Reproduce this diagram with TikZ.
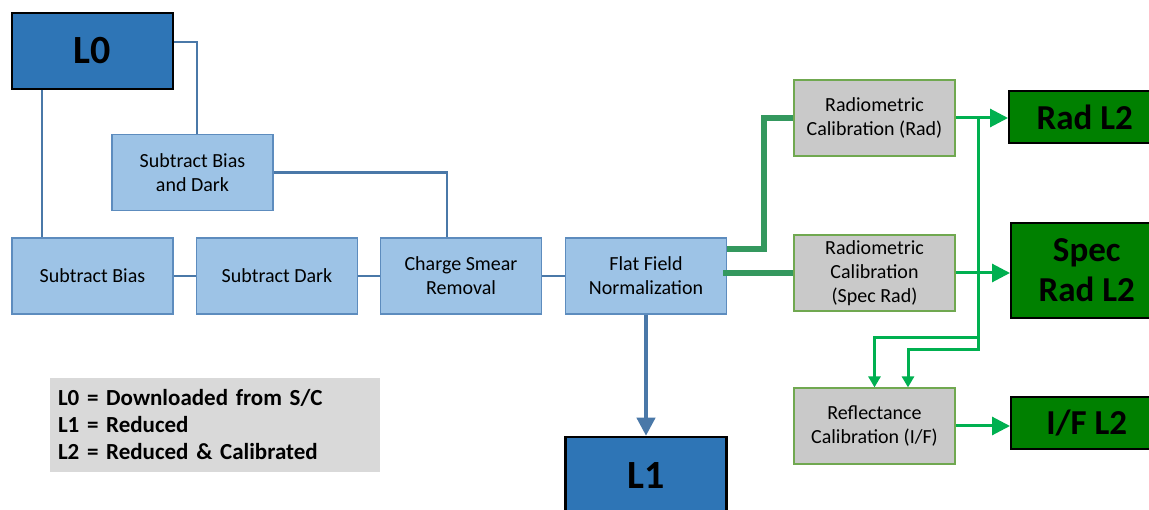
\documentclass[tikz,border=0pt]{standalone}
\usepackage{fontspec}
\setmainfont{Carlito}
\usetikzlibrary{arrows.meta,positioning}
\definecolor{lvlblue}{RGB}{46,117,182}
\definecolor{procblue}{RGB}{157,195,230}
\definecolor{procedge}{RGB}{93,140,190}
\definecolor{linkblue}{RGB}{74,120,168}
\definecolor{calgray}{RGB}{201,201,201}
\definecolor{caledge}{RGB}{112,168,80}
\definecolor{prodgreen}{RGB}{0,128,0}
\definecolor{pathgreen}{RGB}{52,152,94}
\definecolor{arrgreen}{RGB}{0,176,80}
\definecolor{leggray}{RGB}{217,217,217}
\begin{document}
\begin{tikzpicture}[x=1pt,y=-1pt,
  proc/.style={draw=procedge, fill=procblue, line width=1.2pt,
    minimum width=161pt, minimum height=76pt, inner sep=0pt,
    align=center, font=\fontsize{20}{24}\selectfont},
  calib/.style={proc, draw=caledge, fill=calgray},
  level/.style={draw=black, fill=lvlblue, line width=2.5pt,
    minimum width=161pt, minimum height=76pt, inner sep=0pt,
    font=\bfseries\fontsize{40}{44}\selectfont},
  product/.style={draw=black, fill=prodgreen, line width=1.5pt, anchor=west,
    minimum width=152pt, inner sep=0pt, align=center,
    font=\bfseries\fontsize{35}{40}\selectfont},
  link/.style={linkblue, line width=2.5pt},
  bluearr/.style={-{Triangle[length=18pt,width=18pt]}, linkblue, line width=4pt},
  thickgreen/.style={pathgreen, line width=6pt},
  greenarr/.style={-{Triangle[length=18pt,width=18pt]}, arrgreen, line width=3pt},
  smallarr/.style={-{Triangle[length=11pt,width=12pt]}, arrgreen, line width=3pt}]
\path[use as bounding box, fill=white] (0,0) rectangle (1149,510);
% Levels
\node[level] (L0) at (92.5,51) {L0};
\node[level, minimum height=78pt] (L1) at (646,476) {L1};
% Reduction chain
\node[proc] (sbd) at (192.5,172.5) {Subtract Bias\\and Dark};
\node[proc] (sb) at (92.5,276) {Subtract Bias};
\node[proc] (sd) at (277,276) {Subtract Dark};
\node[proc] (csr) at (461,276) {Charge Smear\\Removal};
\node[proc] (ffn) at (646,276) {Flat Field\\Normalization};
% Calibration
\node[calib] (rad) at (874.5,118) {Radiometric\\Calibration (Rad)};
\node[calib] (spec) at (874.5,273) {Radiometric\\Calibration\\(Spec Rad)};
\node[calib] (refl) at (874.5,426) {Reflectance\\Calibration (I/F)};
% Products
\node[product, minimum height=52pt] (radL2) at (1008,117) {Rad L2};
\node[product, minimum height=95pt] (specL2) at (1010,270.5) {Spec\\Rad L2};
\node[product, minimum height=52pt] (ifL2) at (1010,423) {I/F L2};
% Key
\node[fill=leggray, minimum height=94pt, text width=314pt, inner xsep=8pt,
  align=left, font=\bfseries\fontsize{23}{27}\selectfont]
  (key) at (215,425) {L0 = Downloaded from S/C\\L1 = Reduced\\L2 = Reduced \& Calibrated};
% Blue links
\draw[link] ([yshift=9pt]L0.east) -| ([xshift=4.5pt]sbd.north);
\draw[link] ([xshift=-50.5pt]L0.south) -- ([xshift=-50.5pt]sb.north);
\draw[link] (sbd.east) -| ([xshift=-14pt]csr.north);
\draw[link] (sb) -- (sd);
\draw[link] (sd) -- (csr);
\draw[link] (csr) -- (ffn);
\draw[bluearr] (ffn) -- (L1);
% Green paths
\coordinate (ffnout) at ([xshift=-4pt]ffn.east);
\draw[thickgreen] ([yshift=27pt]ffn.east) -- ++(37,0) |- (rad.west);
\draw[thickgreen] (ffnout |- spec.west) -- (spec.west);
\draw[greenarr] (rad.east) -- (rad.east -| radL2.west);
\draw[greenarr] (spec.east) -- (spec.east -| specL2.west);
\draw[greenarr] (refl.east) -- (refl.east -| ifL2.west);
\draw[smallarr] ([xshift=23pt]rad.east) -- ++(0,220) -| (refl.north);
\draw[smallarr] ([xshift=23pt]spec.east) -- ++(0,77) -| ([xshift=33.5pt]refl.north);
\end{tikzpicture}
\end{document}
